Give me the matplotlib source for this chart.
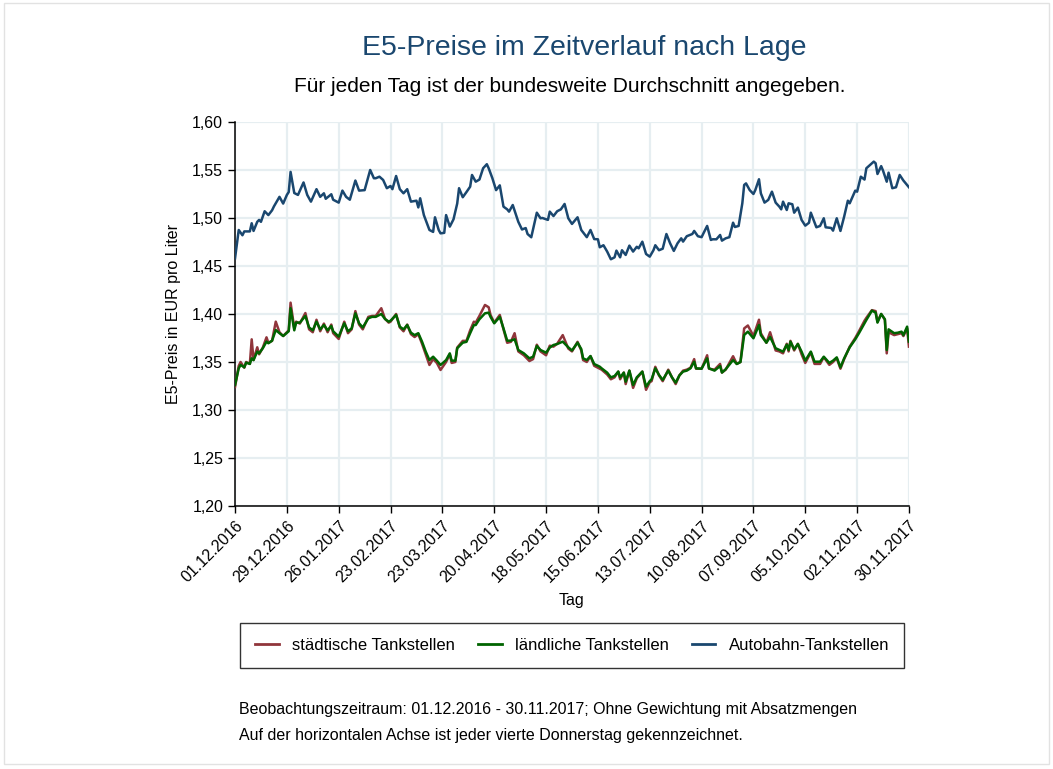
import pandas as pd
import matplotlib
matplotlib.use('Agg')
import matplotlib.pyplot as plt
from matplotlib.patches import Rectangle

plt.rcParams['font.family'] = ['Liberation Sans', 'DejaVu Sans']

# days since 01.12.2016
land_days = [0, 2, 3, 5, 6, 8, 9, 10, 12, 13, 15, 17, 18, 20, 22, 24, 26, 29, 30, 32,
             33, 35, 38, 40, 42, 44, 46, 48, 50, 52, 53, 56, 59, 61, 63, 65, 67, 69, 72, 74,
             76, 79, 81, 83, 84, 87, 89, 91, 93, 95, 97, 99, 101, 103, 105, 107, 109, 111, 114, 116,
             117, 119, 120, 123, 125, 127, 129, 130, 132, 135, 137, 138, 140, 143, 145, 147, 149, 151, 153, 156,
             159, 161, 163, 165, 168, 170, 172, 174, 177, 180, 182,
             185, 187, 188, 190, 192, 194, 197, 198, 201, 203, 205, 207, 208, 210, 211, 213, 215, 217, 220, 222,
             224, 225, 227, 229, 231, 234, 236, 238, 240, 242, 244, 246, 248, 249, 252, 255, 256, 259, 262, 263,
             265, 269, 271, 273, 275, 277, 280, 283, 284, 287, 289, 292, 294, 296, 298, 299, 300, 302, 304, 306,
             308, 311, 313, 316, 318, 321, 323, 325, 327, 329, 332, 335, 337, 340, 341, 344, 346, 347, 349, 351,
             352, 353, 356, 358, 360, 361, 363, 364]

laendlich = [1.326, 1.3434, 1.3469, 1.3445, 1.3493, 1.348, 1.3538, 1.352, 1.3608, 1.359, 1.3643, 1.3712, 1.3695, 1.3722, 1.3833, 1.380, 1.3771, 1.382, 1.406, 1.383,
             1.391, 1.391, 1.3979, 1.386, 1.383, 1.392, 1.384, 1.3885, 1.383, 1.3875, 1.382, 1.3764, 1.3903, 1.382, 1.385, 1.4007, 1.3903, 1.386, 1.3955, 1.397,
             1.397, 1.400, 1.3948, 1.392, 1.393, 1.399, 1.3868, 1.384, 1.3885, 1.3805, 1.378, 1.380, 1.3712, 1.3608, 1.352, 1.3555, 1.3514, 1.3469, 1.352, 1.359,
             1.3514, 1.3514, 1.3643, 1.3701, 1.371, 1.380, 1.3885, 1.3885, 1.3945, 1.4007, 1.4014, 1.397, 1.3903, 1.397, 1.385, 1.3722, 1.3722, 1.3737, 1.3625, 1.359,
             1.3538, 1.3555, 1.3667, 1.3625, 1.3597, 1.365, 1.3677, 1.3687, 1.3712, 1.3653, 1.362,
             1.3701, 1.3635, 1.3538, 1.352, 1.3562, 1.3479, 1.3451, 1.3434, 1.3389, 1.334, 1.3354, 1.340, 1.334, 1.3389, 1.3295, 1.341, 1.326, 1.334, 1.340, 1.3243,
             1.330, 1.332, 1.3434, 1.3365, 1.3313, 1.341, 1.334, 1.3285, 1.336, 1.340, 1.341, 1.3434, 1.3503, 1.3434, 1.343, 1.3538, 1.3434, 1.341, 1.3458, 1.339,
             1.3424, 1.352, 1.3479, 1.350, 1.3781, 1.3816, 1.3747, 1.3885, 1.378, 1.3701, 1.376, 1.3643, 1.3625, 1.3608, 1.368, 1.3625, 1.3712, 1.3632, 1.3687, 1.3608,
             1.3514, 1.3608, 1.3503, 1.3503, 1.3555, 1.349, 1.3514, 1.3548, 1.3444, 1.3538, 1.3653, 1.3736, 1.380, 1.3903, 1.3938, 1.4035, 1.4014, 1.391, 1.400, 1.3945,
             1.3625, 1.384, 1.380, 1.3805, 1.3816, 1.378, 1.3868, 1.3712]

staedtisch = [1.324, 1.346, 1.350, 1.344, 1.350, 1.348, 1.3736, 1.352, 1.3653, 1.358, 1.365, 1.3757, 1.370, 1.372, 1.392, 1.381, 1.377, 1.383, 1.4118, 1.385,
              1.392, 1.390, 1.401, 1.384, 1.381, 1.394, 1.382, 1.390, 1.381, 1.389, 1.380, 1.374, 1.392, 1.380, 1.384, 1.403, 1.389, 1.384, 1.397, 1.398,
              1.398, 1.406, 1.395, 1.391, 1.392, 1.400, 1.386, 1.382, 1.389, 1.379, 1.376, 1.379, 1.369, 1.358, 1.3469, 1.353, 1.349, 1.3417, 1.350, 1.358,
              1.349, 1.350, 1.365, 1.372, 1.372, 1.383, 1.392, 1.391, 1.398, 1.4094, 1.407, 1.399, 1.391, 1.399, 1.384, 1.370, 1.371, 1.380, 1.361, 1.357,
              1.351, 1.353, 1.368, 1.361, 1.357, 1.367, 1.366, 1.369, 1.378, 1.364, 1.361,
              1.371, 1.362, 1.352, 1.350, 1.356, 1.346, 1.343, 1.342, 1.337, 1.332, 1.334, 1.340, 1.332, 1.339, 1.327, 1.341, 1.323, 1.333, 1.340, 1.321,
              1.329, 1.330, 1.345, 1.336, 1.330, 1.342, 1.334, 1.327, 1.336, 1.341, 1.342, 1.344, 1.353, 1.343, 1.343, 1.357, 1.343, 1.342, 1.348, 1.339,
              1.342, 1.356, 1.348, 1.350, 1.385, 1.388, 1.377, 1.394, 1.380, 1.370, 1.381, 1.362, 1.361, 1.359, 1.369, 1.361, 1.372, 1.362, 1.369, 1.358,
              1.349, 1.360, 1.348, 1.348, 1.355, 1.347, 1.350, 1.354, 1.343, 1.353, 1.366, 1.375, 1.382, 1.393, 1.396, 1.404, 1.403, 1.392, 1.400, 1.394,
              1.359, 1.381, 1.378, 1.379, 1.380, 1.377, 1.385, 1.366]

bahn_days = [0, 2, 4, 5, 8, 9, 10, 12, 13, 14, 16, 18, 20, 21, 24, 26, 28, 29, 30, 32,
             34, 37, 39, 41, 44, 46, 48, 49, 52, 53, 56, 58, 60, 62, 65, 67, 70, 73, 75, 76,
             78, 80, 82, 84, 85, 87, 89, 91, 93, 95, 98, 99, 100, 102, 105, 107, 108, 110, 111, 113,
             114, 116, 118, 120, 121, 123, 125, 127, 128, 130, 132, 134, 136, 137, 139, 141, 143, 145, 147, 148,
             150, 153, 155, 157, 158, 160, 163, 165, 166, 169, 170, 172, 174, 176, 178, 180, 182, 185, 187, 190,
             192, 194, 196, 197, 199, 201, 203, 205, 206, 208, 209, 211, 213, 215, 217, 218, 220, 222, 224, 226,
             227, 229, 231, 233, 235, 237, 239, 241, 242, 244, 247, 248, 250, 252, 253, 255, 257, 258, 260, 262,
             263, 265, 267, 269, 270, 272, 274, 275, 276, 278, 280, 281, 283, 284, 286, 288, 290, 292, 294, 295,
             296, 298, 299, 301, 302, 304, 306, 308, 310, 311, 314, 316, 318, 319, 322, 323, 325, 327, 329, 331,
             332, 335, 336, 338, 340, 341, 343, 345, 346, 347, 349, 350, 352, 353, 355, 357, 359, 361, 364]

autobahn = [1.458, 1.4875, 1.482, 1.486, 1.486, 1.4945, 1.4865, 1.496, 1.498, 1.496, 1.507, 1.503, 1.508, 1.512, 1.522, 1.515, 1.524, 1.527, 1.548, 1.526,
            1.524, 1.537, 1.524, 1.517, 1.530, 1.522, 1.5257, 1.520, 1.5247, 1.519, 1.516, 1.5285, 1.522, 1.519, 1.539, 1.5285, 1.529, 1.550, 1.5414, 1.5414,
            1.543, 1.5396, 1.531, 1.5333, 1.530, 1.5437, 1.530, 1.5257, 1.530, 1.517, 1.518, 1.511, 1.5205, 1.503, 1.4875, 1.4855, 1.5007, 1.4875, 1.484, 1.4845,
            1.503, 1.491, 1.4986, 1.515, 1.531, 1.5216, 1.527, 1.5326, 1.5448, 1.5378, 1.540, 1.5518, 1.556, 1.5518, 1.5414, 1.529, 1.534, 1.5118, 1.509, 1.5066,
            1.5135, 1.496, 1.488, 1.4895, 1.4833, 1.4799, 1.5055, 1.4997, 1.500, 1.498, 1.5066, 1.502, 1.507, 1.509, 1.5146, 1.4997, 1.4938, 1.5007, 1.4875, 1.480,
            1.4875, 1.478, 1.4778, 1.4695, 1.4716, 1.465, 1.457, 1.459, 1.466, 1.459, 1.4664, 1.4615, 1.4712, 1.465, 1.470, 1.4684, 1.4753, 1.4625, 1.4597, 1.4664,
            1.4716, 1.4664, 1.468, 1.4833, 1.4736, 1.4657, 1.4736, 1.4788, 1.4754, 1.481, 1.4833, 1.4865, 1.481, 1.480, 1.484, 1.4917, 1.4771, 1.4778, 1.4778, 1.4823,
            1.4764, 1.4788, 1.480, 1.4951, 1.4906, 1.4917, 1.5153, 1.5344, 1.536, 1.529, 1.525, 1.529, 1.5403, 1.5257, 1.516, 1.5188, 1.5274, 1.516, 1.5118, 1.509,
            1.517, 1.5083, 1.5153, 1.5143, 1.5055, 1.5108, 1.498, 1.492, 1.495, 1.5055, 1.4903, 1.4917, 1.4997, 1.4903, 1.4896, 1.4868, 1.4997, 1.4865, 1.5014, 1.518,
            1.5153, 1.5285, 1.5274, 1.543, 1.540, 1.5518, 1.5552, 1.5587, 1.557, 1.5458, 1.554, 1.5493, 1.5378, 1.5472, 1.531, 1.532, 1.5448, 1.539, 1.532]

start = pd.Timestamp('2016-12-01')
end = pd.Timestamp('2017-11-30')
x_land = start + pd.to_timedelta(land_days, unit='D')
x_bahn = start + pd.to_timedelta(bahn_days, unit='D')
tick_dates = pd.date_range(start, end, freq='28D')
y_ticks = [1.20, 1.25, 1.30, 1.35, 1.40, 1.45, 1.50, 1.55, 1.60]

c_stadt = '#90353b'
c_land = '#006400'
c_bahn = '#1a476f'
c_grid = '#e6eef1'

fig = plt.figure(figsize=(10.53, 7.69), dpi=100)
fig.patches.append(Rectangle((0.004, 0.006), 0.992, 0.99, transform=fig.transFigure,
                             fill=False, edgecolor='#e2e2e2', linewidth=1))
ax = fig.add_axes([0.2232, 0.342, 0.6400, 0.4994])

ax.plot(x_land, staedtisch, color=c_stadt, lw=1.8, label='städtische Tankstellen', zorder=3)
ax.plot(x_land, laendlich, color=c_land, lw=1.8, label='ländliche Tankstellen', zorder=4)
ax.plot(x_bahn, autobahn, color=c_bahn, lw=1.8, label='Autobahn-Tankstellen', zorder=3)

ax.set_xlim(start, end)
ax.set_ylim(1.20, 1.60)
ax.set_xticks(tick_dates)
ax.set_xticklabels([d.strftime('%d.%m.%Y') for d in tick_dates], rotation=45,
                   ha='right', rotation_mode='anchor', fontsize=11.5)
ax.set_yticks(y_ticks)
ax.set_yticklabels([f'{v:.2f}'.replace('.', ',') for v in y_ticks], fontsize=11.5)
ax.tick_params(direction='out', length=5, width=1, color='black')
ax.grid(True, color=c_grid, lw=1.6, zorder=0)
ax.set_axisbelow(True)
for s in ['top', 'right']:
    ax.spines[s].set_visible(False)
for s in ['left', 'bottom']:
    ax.spines[s].set_linewidth(1.1)

ax.set_xlabel('Tag', fontsize=11.5, labelpad=6)
ax.set_ylabel('E5-Preis in EUR pro Liter', fontsize=11.5, labelpad=8)

fig.text(0.5546, 0.937, 'E5-Preise im Zeitverlauf nach Lage', ha='center', va='center',
         fontsize=20.5, color=c_bahn)
fig.text(0.5415, 0.887, 'Für jeden Tag ist der bundesweite Durchschnitt angegeben.',
         ha='center', va='center', fontsize=15)

leg = fig.legend(loc='center', bbox_to_anchor=(0.5435, 0.1605), ncol=3, fontsize=12,
                 frameon=True, fancybox=False, edgecolor='black', handlelength=1.4,
                 columnspacing=1.4, handletextpad=0.8, borderpad=0.9)
leg.get_frame().set_linewidth(1.0)
for line in leg.get_lines():
    line.set_linewidth(2)

fig.text(0.227, 0.078, 'Beobachtungszeitraum: 01.12.2016 - 30.11.2017; Ohne Gewichtung mit Absatzmengen',
         ha='left', va='center', fontsize=11.5)
fig.text(0.227, 0.044, 'Auf der horizontalen Achse ist jeder vierte Donnerstag gekennzeichnet.',
         ha='left', va='center', fontsize=11.5)

fig.savefig('out.png', dpi=100, facecolor='white')
